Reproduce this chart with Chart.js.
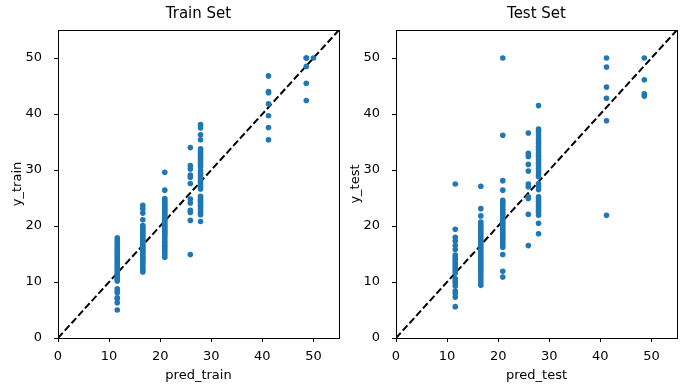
<!DOCTYPE html>
<html>
<head>
<meta charset="utf-8">
<script src="https://cdn.jsdelivr.net/npm/chart.js@4"></script>
<style>
    html, body { margin: 0; padding: 0; background: #fff; }
    body { width: 687px; height: 391px; position: relative; overflow: hidden; }
    .box { position: absolute; top: 0; width: 343px; height: 391px; }
</style>
</head>
<body>
<div class="box" style="left:0px"><canvas id="trainChart"></canvas></div>
<div class="box" style="left:338px"><canvas id="testChart"></canvas></div>
<script>
// --- Data ---
// predicted values (tree leaves) and actual targets at each leaf
const trainPred = [11.6, 16.6, 20.9, 25.9, 27.9, 41.2, 48.6, 50.0];
const trainY_11 = [17.9, 17.5, 17.1, 16.7, 16.3, 15.9, 15.6, 15.2, 14.8, 14.5, 14.1, 13.8, 13.4, 13.1, 12.7, 12.3, 12.0, 11.6, 11.3, 10.9, 10.5, 10.2, 8.8, 8.4, 8.1, 7.2, 7.0, 6.3, 5.0];
const trainY_16 = [23.7, 23.1, 22.3, 21.1, 20.1, 19.8, 19.5, 19.2, 18.9, 18.6, 18.3, 18.0, 17.7, 17.4, 17.1, 16.8, 16.5, 16.2, 15.9, 15.6, 15.3, 15.0, 14.6, 14.3, 14.0, 13.6, 13.3, 12.9, 12.5, 12.1, 11.8];
const trainY_20 = [29.6, 26.4, 24.9, 24.6, 24.3, 24.0, 23.7, 23.4, 23.1, 22.8, 22.5, 22.2, 21.9, 21.6, 21.3, 21.0, 20.7, 20.4, 20.1, 19.8, 19.5, 19.2, 18.9, 18.6, 18.3, 18.0, 17.6, 17.2, 16.8, 16.4, 16.0, 15.6, 15.2, 14.8, 14.4];
const trainY_25 = [34.0, 30.8, 30.2, 29.1, 28.7, 27.6, 24.8, 24.1, 22.8, 22.4, 21.0, 14.9];
const trainY_27 = [38.1, 37.5, 36.3, 35.4, 33.8, 33.4, 33.0, 32.6, 32.2, 31.8, 31.4, 31.0, 30.6, 29.9, 29.4, 29.0, 28.6, 28.2, 27.8, 27.4, 27.0, 26.6, 25.3, 25.0, 24.7, 24.4, 24.1, 23.8, 23.5, 23.1, 22.7, 22.3, 22.0, 20.8];
const trainY_41 = [46.8, 44.0, 43.8, 41.8, 39.7, 37.6, 35.4];
const trainY_48 = [50.0, 50.0, 48.5, 45.5, 42.4];
const trainY_50 = [50.0];

const testPred = [11.6, 16.6, 20.9, 25.9, 27.9, 41.2, 48.6];
const testY_11 = [27.5, 19.4, 18.0, 17.3, 16.5, 15.8, 14.8, 14.4, 14.0, 13.6, 13.2, 12.8, 12.4, 12.0, 11.6, 10.6, 10.2, 9.8, 9.3, 8.4, 8.0, 7.3, 5.6];
const testY_16 = [27.1, 23.1, 21.8, 20.7, 20.3, 19.9, 19.5, 19.1, 18.7, 18.3, 17.9, 17.5, 17.1, 16.7, 16.3, 15.9, 15.5, 15.0, 14.6, 14.2, 13.8, 13.4, 13.0, 12.6, 12.2, 11.8, 11.3, 10.8, 10.3, 9.8, 9.4];
const testY_20 = [50.0, 36.2, 28.1, 26.4, 24.6, 24.2, 23.8, 23.4, 23.0, 22.6, 22.2, 21.8, 21.4, 21.0, 20.6, 20.2, 19.8, 19.4, 19.0, 18.6, 18.2, 17.8, 17.4, 17.0, 16.6, 16.2, 14.9, 11.9, 10.9];
const testY_25 = [36.6, 33.0, 32.4, 31.0, 29.8, 27.5, 27.0, 25.2, 24.9, 22.1, 16.5];
const testY_27 = [41.5, 37.3, 36.9, 36.3, 35.7, 35.2, 34.7, 34.2, 33.7, 33.2, 32.7, 32.3, 31.8, 31.3, 30.8, 30.3, 29.8, 29.3, 28.8, 27.6, 27.1, 26.5, 25.2, 24.8, 24.4, 24.0, 23.6, 23.2, 22.8, 22.4, 21.9, 20.5, 18.6];
const testY_41 = [50.0, 48.4, 44.8, 42.8, 38.8, 21.9];
const testY_48 = [50.0, 46.1, 43.6, 43.2];

const axisTicks = [0, 10, 20, 30, 40, 50];
const axisMax = 55;

const trainActual = [trainY_11, trainY_16, trainY_20, trainY_25, trainY_27, trainY_41, trainY_48, trainY_50];
const testActual = [testY_11, testY_16, testY_20, testY_25, testY_27, testY_41, testY_48];

const FONT = 'DejaVu Sans';
const BLUE = '#1f77b4';

function toPoints(preds, groups) {
    const pts = [];
    preds.forEach((p, i) => {
        groups[i].forEach(y => pts.push({ x: p, y: y }));
    });
    return pts;
}

// draws the top/right spines too
const frame = {
    id: 'frame',
    afterDatasetsDraw(chart) {
        const a = chart.chartArea, ctx = chart.ctx;
        ctx.save();
        ctx.strokeStyle = '#000';
        ctx.lineWidth = 1;
        ctx.strokeRect(Math.round(a.left) + 0.5, Math.round(a.top) + 0.5,
            Math.round(a.right - a.left), Math.round(a.bottom - a.top));
        ctx.restore();
    }
};

function axis(label, isY) {
    return {
        type: 'linear',
        min: 0,
        max: axisMax,
        afterBuildTicks: s => { s.ticks = axisTicks.map(v => ({ value: v })); },
        afterFit: s => { if (isY) s.width = 58; else s.height = 53; },
        ticks: {
            color: '#000',
            font: { family: FONT, size: 13 },
            padding: isY ? 12 : 7,
            maxRotation: 0,
            includeBounds: false
        },
        grid: { drawOnChartArea: false, drawTicks: true, tickLength: 4, color: '#000' },
        border: { color: '#000', width: 1 },
        title: {
            display: true,
            text: label,
            color: '#000',
            font: { family: FONT, size: 13 },
            padding: isY ? { top: 10, bottom: 0 } : { top: 0, bottom: 8 }
        }
    };
}

function makeChart(id, title, xLabel, yLabel, points) {
    const ctx = document.getElementById(id).getContext('2d');
    return new Chart(ctx, {
        type: 'scatter',
        data: {
            datasets: [
                {
                    data: points,
                    backgroundColor: BLUE,
                    borderColor: BLUE,
                    borderWidth: 0,
                    pointRadius: 2.8
                },
                {
                    type: 'line',
                    data: [{ x: 0, y: 0 }, { x: axisMax, y: axisMax }],
                    borderColor: '#000',
                    borderWidth: 2,
                    borderDash: [7, 3],
                    pointRadius: 0,
                    fill: false
                }
            ]
        },
        options: {
            responsive: false,
            animation: false,
            layout: { padding: { left: 0, right: 4, top: 0, bottom: 0 } },
            scales: { x: axis(xLabel, false), y: axis(yLabel, true) },
            plugins: {
                legend: { display: false },
                tooltip: { enabled: false },
                title: {
                    display: true,
                    text: title,
                    color: '#000',
                    fullSize: false,
                    font: { family: FONT, size: 15, weight: 'normal' },
                    padding: { top: 5, bottom: 7 }
                }
            }
        },
        plugins: [frame]
    });
}

document.getElementById('trainChart').width = 343;
document.getElementById('trainChart').height = 391;
document.getElementById('testChart').width = 343;
document.getElementById('testChart').height = 391;

makeChart('trainChart', 'Train Set', 'pred_train', 'y_train', toPoints(trainPred, trainActual));
makeChart('testChart', 'Test Set', 'pred_test', 'y_test', toPoints(testPred, testActual));
</script>
</body>
</html>
